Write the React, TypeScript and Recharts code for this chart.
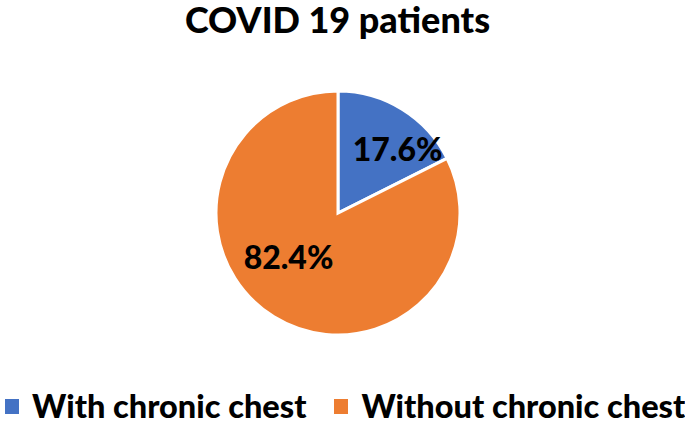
import { PieChart, Pie, Cell, Legend } from "recharts";

const categories = ["With chronic chest", "Without chronic chest"];
const values = [17.6, 82.4];
const colors = ["#4472C4", "#ED7D31"];

// label placement (fraction of radius, angle nudge in degrees) per slice, like Excel's best fit
const labelRadius = [0.72, 0.54];
const labelAngleNudge = [-11, -17];

const data = categories.map((name, i) => ({ name, value: values[i] }));

const RADIAN = Math.PI / 180;

const renderLabel = (props: any) => {
    const { cx, cy, midAngle, outerRadius, index, value } = props;
    const r = outerRadius * labelRadius[index];
    const a = (midAngle + labelAngleNudge[index]) * RADIAN;
    const x = cx + r * Math.cos(a);
    const y = cy - r * Math.sin(a);
    return (
        <text
            x={x}
            y={y}
            textAnchor="middle"
            dominantBaseline="central"
            fill="#000"
            style={{ fontFamily: "Lato, sans-serif", fontWeight: 900, fontSize: 32 }}
        >
            {`${value.toFixed(1)}%`}
        </text>
    );
};

const LegendContent = () => (
    <div
        style={{
            display: "flex",
            alignItems: "center",
            fontFamily: "Lato, sans-serif",
            fontWeight: 900,
            fontSize: 32.5,
            lineHeight: "32px",
            color: "#000",
            whiteSpace: "nowrap",
            paddingLeft: 5,
        }}
    >
        {categories.map((c, i) => (
            <div key={c} style={{ display: "flex", alignItems: "center", marginRight: i === 0 ? 28 : 0 }}>
                <div style={{ width: 14, height: 15, background: colors[i], marginRight: 13 }} />
                <span>{c}</span>
            </div>
        ))}
    </div>
);

export default function App() {
    return (
        <div style={{ position: "absolute", left: 0, top: 0, width: 685, height: 422, background: "#fff" }}>
            <div
                style={{
                    position: "absolute",
                    top: 0,
                    left: 0,
                    width: 675,
                    textAlign: "center",
                    fontFamily: "Lato, sans-serif",
                    fontWeight: 900,
                    fontSize: 36,
                    lineHeight: "38px",
                    color: "#000",
                }}
            >
                COVID 19 patients
            </div>
            <PieChart width={685} height={422} margin={{ top: 0, right: 0, bottom: 0, left: 0 }}>
                <Pie
                    data={data}
                    dataKey="value"
                    nameKey="name"
                    cx={338}
                    cy={213}
                    outerRadius={122}
                    startAngle={90}
                    endAngle={-270}
                    stroke="#fff"
                    strokeWidth={3}
                    label={renderLabel}
                    labelLine={false}
                    isAnimationActive={false}
                >
                    {data.map((d, i) => (
                        <Cell key={d.name} fill={colors[i]} />
                    ))}
                </Pie>
                <Legend
                    content={<LegendContent />}
                    wrapperStyle={{ position: "absolute", left: 0, top: 390, width: 685 }}
                />
            </PieChart>
        </div>
    );
}
